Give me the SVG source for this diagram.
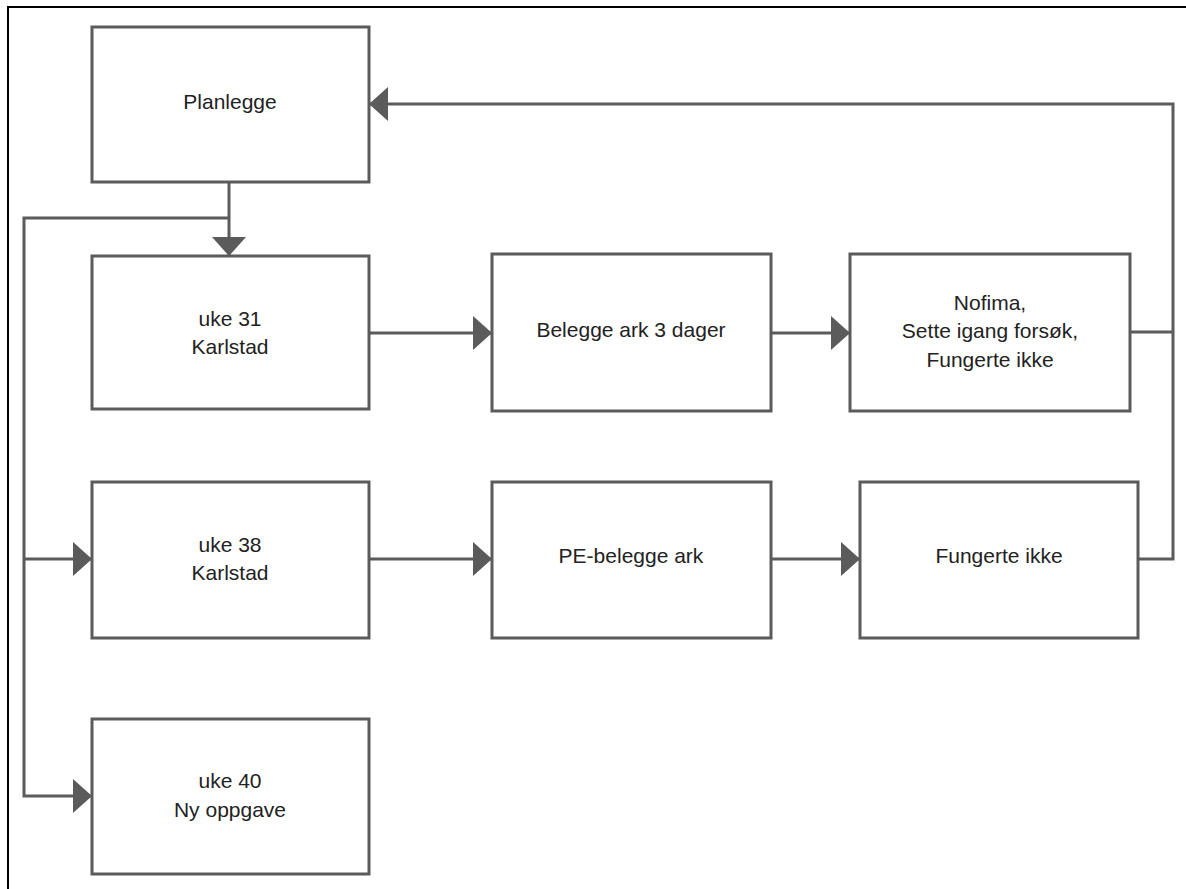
<svg xmlns="http://www.w3.org/2000/svg" width="1186" height="889" viewBox="0 0 1186 889">
<style>
.box{fill:#fff;stroke:#5b5b5b;stroke-width:3}
.ln{fill:none;stroke:#5b5b5b;stroke-width:3}
.t{font-family:"Liberation Sans",Arial,sans-serif;font-size:21px;fill:#222;text-anchor:middle}
</style>
<defs>
<marker id="ah" viewBox="0 0 20 34" refX="19" refY="17" markerWidth="20" markerHeight="34" markerUnits="userSpaceOnUse" orient="auto">
<path d="M0,0 L19,17 L0,34 Z" fill="#5b5b5b"/>
</marker>
</defs>
<rect width="1186" height="889" fill="#fff"/>
<path d="M8,889 V7 H1186" fill="none" stroke="#000" stroke-width="2"/>
<g id="connectors">
<path class="ln" d="M229,182 V256" marker-end="url(#ah)"/>
<path class="ln" d="M229,218 H24 V796 H92" marker-end="url(#ah)"/>
<path class="ln" d="M24,559 H92" marker-end="url(#ah)"/>
<path class="ln" d="M369,333 H492" marker-end="url(#ah)"/>
<path class="ln" d="M771,333 H850" marker-end="url(#ah)"/>
<path class="ln" d="M369,559 H492" marker-end="url(#ah)"/>
<path class="ln" d="M771,559 H860" marker-end="url(#ah)"/>
<path class="ln" d="M1130,332 H1173"/>
<path class="ln" d="M1138,559 H1173 V104 H369" marker-end="url(#ah)"/>
</g>
<g id="planlegge"><rect class="box" x="92" y="27" width="277" height="155"/><text class="t" x="230" y="109">Planlegge</text></g>
<g id="uke31"><rect class="box" x="92" y="256" width="277" height="153"/><text class="t" x="230" y="326">uke 31</text><text class="t" x="230" y="354">Karlstad</text></g>
<g id="belegge"><rect class="box" x="492" y="254" width="279" height="157"/><text class="t" x="631" y="337">Belegge ark 3 dager</text></g>
<g id="nofima"><rect class="box" x="850" y="254" width="280" height="157"/><text class="t" x="990" y="310">Nofima,</text><text class="t" x="990" y="338">Sette igang forsøk,</text><text class="t" x="990" y="367">Fungerte ikke</text></g>
<g id="uke38"><rect class="box" x="92" y="482" width="277" height="156"/><text class="t" x="230" y="552">uke 38</text><text class="t" x="230" y="580">Karlstad</text></g>
<g id="pe"><rect class="box" x="492" y="482" width="279" height="156"/><text class="t" x="631" y="563">PE-belegge ark</text></g>
<g id="fungerte"><rect class="box" x="860" y="482" width="278" height="156"/><text class="t" x="999" y="563">Fungerte ikke</text></g>
<g id="uke40"><rect class="box" x="92" y="719" width="277" height="155"/><text class="t" x="230" y="788">uke 40</text><text class="t" x="230" y="817">Ny oppgave</text></g>
</svg>
